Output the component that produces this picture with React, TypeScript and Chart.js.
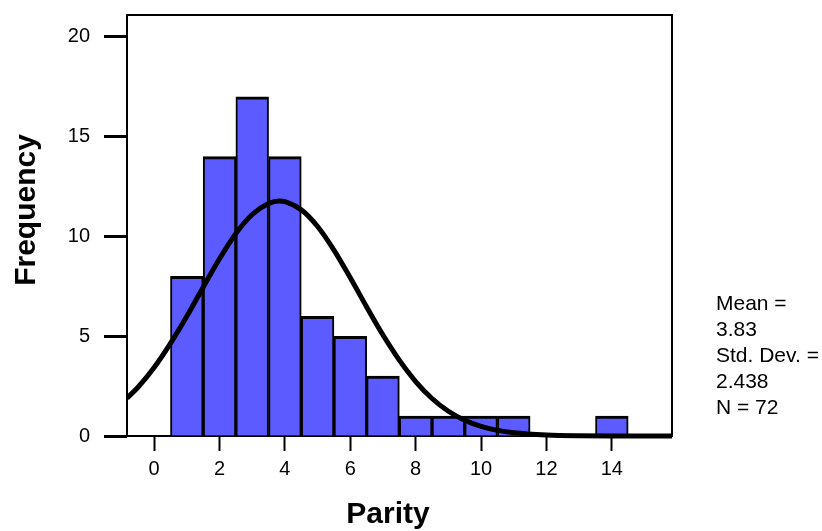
import React, { useEffect, useRef } from "react";
import { Chart, registerables } from "chart.js";

Chart.register(...registerables);

// ---- data ----
const PARITY_BINS = [1, 2, 3, 4, 5, 6, 7, 8, 9, 10, 11, 14];
const FREQUENCIES = [8, 14, 17, 14, 6, 5, 3, 1, 1, 1, 1, 1];

// normal curve
const CURVE_X = [-0.83, -0.5, 0, 0.5, 1, 1.5, 2, 2.5, 3, 3.5, 3.83, 4, 4.5, 5, 5.5, 6, 6.5, 7, 7.5, 8, 8.5, 9, 9.5, 10, 10.5, 11, 12, 13, 14, 15, 15.84];
const CURVE_Y = [1.9, 2.43, 3.43, 4.64, 6.0, 7.46, 8.88, 10.15, 11.1, 11.65, 11.78, 11.75, 11.34, 10.5, 9.32, 7.93, 6.47, 5.06, 3.8, 2.73, 1.88, 1.24, 0.79, 0.48, 0.28, 0.16, 0.05, 0.01, 0.0, 0.0, 0.0];

const X_TICKS = [0, 2, 4, 6, 8, 10, 12, 14];
const Y_TICKS = [0, 5, 10, 15, 20];
const X_MIN = -0.83;
const X_MAX = 15.84;
const Y_MIN = 0;
const Y_MAX = 21.1;

const X_TITLE = "Parity";
const Y_TITLE = "Frequency";
const STATS_LINES = ["Mean =", "3.83", "Std. Dev. =", "2.438", "N = 72"];

const FONT = '"Liberation Sans", Arial, Helvetica, sans-serif';

const framePlugin = {
  id: "frame",
  beforeDatasetsDraw(chart: any) {
    const { ctx, chartArea } = chart;
    ctx.save();
    ctx.strokeStyle = "#000";
    ctx.lineWidth = 2;
    ctx.strokeRect(chartArea.left, chartArea.top, chartArea.right - chartArea.left, chartArea.bottom - chartArea.top);
    ctx.restore();
  },
};

const titlesPlugin = {
  id: "axisTitles",
  afterDraw(chart: any) {
    const { ctx } = chart;
    ctx.save();
    ctx.fillStyle = "#000";
    ctx.font = `bold 30px ${FONT}`;
    ctx.textAlign = "center";
    ctx.textBaseline = "middle";
    ctx.fillText(X_TITLE, 388, 515);
    ctx.translate(27, 210);
    ctx.rotate(-Math.PI / 2);
    ctx.fillText(Y_TITLE, 0, 0);
    ctx.restore();
  },
};

export default function App() {
  const canvasRef = useRef<HTMLCanvasElement | null>(null);

  useEffect(() => {
    const canvas = canvasRef.current;
    if (!canvas) return;
    const chart = new Chart(canvas, {
      type: "bar",
      data: {
        datasets: [
          {
            type: "line",
            data: CURVE_X.map((x, i) => ({ x, y: CURVE_Y[i] })),
            borderColor: "#000",
            borderWidth: 5,
            pointRadius: 0,
            cubicInterpolationMode: "monotone",
            fill: false,
            clip: { left: 0, right: 0, top: 0, bottom: 5 },
            order: 0,
          } as any,
          {
            type: "bar",
            data: PARITY_BINS.map((x, i) => ({ x, y: FREQUENCIES[i] })),
            backgroundColor: "#5b5bff",
            borderColor: "#000",
            borderWidth: { top: 3, left: 2, right: 2, bottom: 0 },
            borderSkipped: "start",
            barPercentage: 1,
            categoryPercentage: 1,
            order: 1,
          } as any,
        ],
      },
      options: {
        responsive: false,
        animation: false,
        layout: { padding: { top: 15, right: 150, left: 0, bottom: 0 } },
        plugins: { legend: { display: false }, tooltip: { enabled: false }, title: { display: false } },
        scales: {
          x: {
            type: "linear",
            min: X_MIN,
            max: X_MAX,
            offset: false,
            border: { display: false },
            grid: { offset: false, drawOnChartArea: false, drawTicks: true, tickLength: 15, tickWidth: 2, tickColor: "#000" },
            ticks: { color: "#000", font: { family: FONT, size: 20 }, padding: 6, maxRotation: 0, autoSkip: false },
            afterBuildTicks: (s: any) => {
              s.ticks = X_TICKS.map((v) => ({ value: v }));
            },
            afterFit: (s: any) => {
              s.height = 95;
              s.paddingLeft = 0;
              s.paddingRight = 0;
            },
          },
          y: {
            type: "linear",
            min: Y_MIN,
            max: Y_MAX,
            border: { display: false },
            grid: { offset: false, drawOnChartArea: false, drawTicks: true, tickLength: 23, tickWidth: 3, tickColor: "#000" },
            ticks: { color: "#000", font: { family: FONT, size: 20 }, padding: 14, autoSkip: false },
            afterBuildTicks: (s: any) => {
              s.ticks = Y_TICKS.map((v) => ({ value: v }));
            },
            afterFit: (s: any) => {
              s.width = 127;
              s.paddingTop = 0;
              s.paddingBottom = 0;
            },
          },
        },
      } as any,
      plugins: [framePlugin, titlesPlugin],
    });
    return () => chart.destroy();
  }, []);

  return (
    <div style={{ position: "fixed", left: 0, top: 0, width: 822, height: 531, background: "#fff" }}>
      <canvas ref={canvasRef} width={822} height={531} style={{ display: "block" }} />
      <div
        style={{
          position: "absolute",
          left: 716,
          top: 290,
          fontFamily: FONT,
          fontSize: 21,
          lineHeight: "26px",
          color: "#000",
          whiteSpace: "nowrap",
        }}
      >
        {STATS_LINES.map((t, i) => (
          <div key={i}>{t}</div>
        ))}
      </div>
    </div>
  );
}
